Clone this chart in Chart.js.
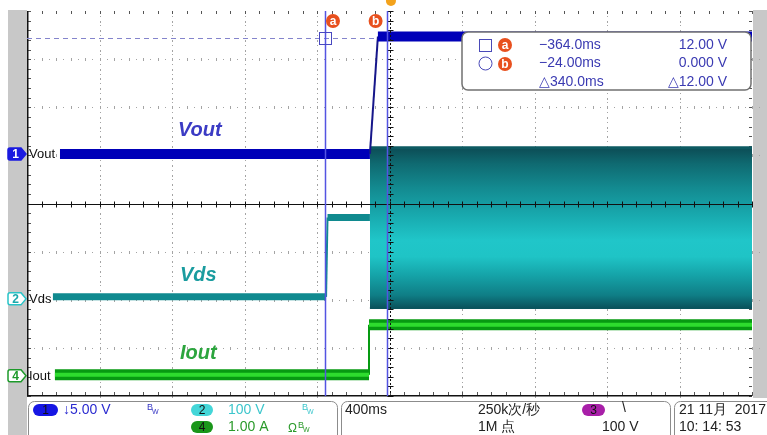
<!DOCTYPE html>
<html>
<head>
<meta charset="utf-8">
<script src="https://cdn.jsdelivr.net/npm/chart.js@4.4.0/dist/chart.umd.min.js"></script>
<style>
  body { margin: 0; background: #fff; }
  #wrap { width: 767px; height: 435px; position: relative; }
</style>
</head>
<body>
<div id="wrap"><canvas id="scope"></canvas></div>
<script>
// time in ms, trigger at 0
const voutTime = [-1826, -116, -72, 1992];
const voutVolts = [0, 0, 12.2, 12.2];
const vdsTime = [-1865, -358, -350, -116];
const vdsVolts = [0, 0, 165, 165];
const vdsBandTime = [-116, 1992];
const vdsBandHigh = [310, 310];
const vdsBandLow = [-23, -23];
const ioutTime = [-1854, -121, -121, 1992];
const ioutAmps = [0, 0, 1.04, 1.04];

const cursorTimes = [-364, -24];   // cursor a, cursor b
const cursorLevel = 12;            // V on ch1
const readoutTimes = ['\u2212364.0ms', '\u221224.00ms', '\u25B3340.0ms'];
const readoutLevels = ['12.00 V', '0.000 V', '\u25B312.00 V'];

// channel settings: units per division, ground in divisions above centre
const ch1 = { perDiv: 5, ground: 1.03 };
const ch2 = { perDiv: 100, ground: -1.94 };
const ch4 = { perDiv: 1, ground: -3.56 };
const timePerDiv = 400;
const triggerDiv = 5.02;   // trigger position, divisions from the left edge

const FONT = '"Liberation Sans", Arial, sans-serif';

const pts = (xs, ys) => xs.map((x, i) => ({ x: x, y: ys[i] }));
const range = (ch) => ({ min: (-4 - ch.ground) * ch.perDiv, max: (4 - ch.ground) * ch.perDiv });
const steep = (c) => Math.abs(c.p1.x - c.p0.x) < Math.abs(c.p1.y - c.p0.y);

/*.............. grid, gray frame ..............*/
const scopeGrid = {
  id: 'scopeGrid',
  beforeDraw(chart) {
    const ctx = chart.ctx;
    ctx.save();
    ctx.fillStyle = '#c8c8c8';
    ctx.fillRect(8, 10, 19, 425);
    ctx.fillRect(753, 10, 14, 388);
    ctx.fillStyle = '#fff';
    const a = chart.chartArea;
    ctx.fillRect(a.left, a.top, a.right - a.left, a.bottom - a.top);
    ctx.restore();
  },
  beforeDatasetsDraw(chart) {
    const ctx = chart.ctx, a = chart.chartArea;
    const dx = (a.right - a.left) / 10, dy = (a.bottom - a.top) / 8;
    ctx.save();
    ctx.fillStyle = '#a4a4a4';
    for (let i = 1; i < 10; i++) {
      if (i === 5) continue;
      const x = Math.round(a.left + i * dx);
      for (let k = 0; k <= 80; k++) {
        const y = a.top + k * dy / 10;
        ctx.fillRect(x, Math.round(y), 1, k % 2 ? 1 : 2);
      }
    }
    for (let j = 1; j < 8; j++) {
      if (j === 4) continue;
      const y = Math.round(a.top + j * dy);
      for (let k = 0; k <= 50; k++) {
        const x = a.left + k * dx / 5;
        ctx.fillRect(Math.round(x), y - 1, 1, 3);
        ctx.fillRect(Math.round(x + dx / 10), y, 1, 1);
      }
    }
    // frame ticks
    ctx.fillStyle = '#555';
    for (let k = 0; k <= 50; k++) {
      const x = Math.round(a.left + k * dx / 5);
      ctx.fillRect(x, a.top, 1, 3);
      ctx.fillRect(x, a.bottom - 4, 1, 4);
    }
    for (let k = 0; k <= 40; k++) {
      const y = Math.round(a.top + k * dy / 5);
      ctx.fillRect(a.left, y, 4, 1);
      ctx.fillRect(a.right - 3, y, 3, 1);
    }
    ctx.fillStyle = '#111';
    ctx.fillRect(a.left, a.top, 1.5, a.bottom - a.top);
    ctx.fillRect(a.left, a.bottom - 1, a.right - a.left, 1.5);

    // horizontal cursor (level of cursor a), hidden under the trace where it meets it
    const yc = Math.round(chart.scales.y1.getPixelForValue(cursorLevel)) + 0.5;
    ctx.strokeStyle = '#8484cc';
    ctx.lineWidth = 1.2;
    ctx.setLineDash([5, 4]);
    ctx.beginPath(); ctx.moveTo(a.left, yc); ctx.lineTo(a.right, yc); ctx.stroke();
    ctx.restore();
  },
  afterDatasetsDraw(chart) {
    const ctx = chart.ctx, a = chart.chartArea;
    const dx = (a.right - a.left) / 10, dy = (a.bottom - a.top) / 8;
    const cx = Math.round(a.left + 5 * dx) + 0.5, cy = Math.round(a.top + 4 * dy) + 0.5;
    ctx.save();
    ctx.strokeStyle = '#111';
    ctx.lineWidth = 1;
    ctx.beginPath();
    ctx.moveTo(a.left, cy); ctx.lineTo(a.right, cy);
    for (let k = 0; k <= 50; k++) {
      const x = Math.round(a.left + k * dx / 5) + 0.5;
      ctx.moveTo(x, cy - 3); ctx.lineTo(x, cy + 3);
    }
    for (let k = 0; k <= 40; k++) {
      const y = Math.round(a.top + k * dy / 5) + 0.5;
      ctx.moveTo(cx - 3, y); ctx.lineTo(cx + 3, y);
    }
    ctx.stroke();
    ctx.setLineDash([2, 2]);
    ctx.beginPath();
    ctx.moveTo(cx, a.top); ctx.lineTo(cx, a.bottom);
    ctx.stroke();
    ctx.setLineDash([]);

    // cursors
    const xs = chart.scales.x;
    const yc = chart.scales.y1.getPixelForValue(cursorLevel);
    ctx.strokeStyle = '#5454e2';
    ctx.lineWidth = 1.5;
    cursorTimes.forEach(t => {
      const x = Math.round(xs.getPixelForValue(t)) + 0.5;
      ctx.beginPath(); ctx.moveTo(x, a.top); ctx.lineTo(x, a.bottom); ctx.stroke();
    });
    const xa = Math.round(xs.getPixelForValue(cursorTimes[0])) + 0.5;
    ctx.strokeStyle = '#4848c0';
    ctx.lineWidth = 1;
    ctx.strokeRect(xa - 6, Math.round(yc) - 5.5, 12, 12);
    ctx.restore();
  }
};

/*.............. labels, readouts, status bar ..............*/
function badge(ctx, x, y, letter) {
  ctx.fillStyle = '#e8501e';
  ctx.beginPath(); ctx.arc(x, y, 7, 0, Math.PI * 2); ctx.fill();
  ctx.fillStyle = '#fff';
  ctx.font = 'bold 12px ' + FONT;
  ctx.textAlign = 'center'; ctx.textBaseline = 'middle';
  ctx.fillText(letter, x, y + 0.5);
}

function chanTag(ctx, y, num, fill, stroke, numColor, name) {
  ctx.beginPath();
  ctx.moveTo(10, y - 6); ctx.lineTo(21, y - 6); ctx.lineTo(26, y);
  ctx.lineTo(21, y + 6); ctx.lineTo(10, y + 6);
  ctx.quadraticCurveTo(8, y + 6, 8, y + 4); ctx.lineTo(8, y - 4);
  ctx.quadraticCurveTo(8, y - 6, 10, y - 6); ctx.closePath();
  ctx.fillStyle = fill; ctx.fill();
  ctx.strokeStyle = stroke; ctx.lineWidth = 1.5; ctx.stroke();
  ctx.fillStyle = numColor;
  ctx.font = 'bold 12px ' + FONT;
  ctx.textAlign = 'center'; ctx.textBaseline = 'middle';
  ctx.fillText(num, 15.5, y + 0.5);
  ctx.fillStyle = '#111';
  ctx.font = '13px ' + FONT;
  ctx.textAlign = 'left';
  ctx.fillText(name, 29, y + 0.5);
}

function pill(ctx, x, y, w, h, fill, num) {
  ctx.fillStyle = fill;
  ctx.beginPath(); ctx.roundRect(x, y, w, h, h / 2); ctx.fill();
  ctx.fillStyle = '#111';
  ctx.font = '12px ' + FONT;
  ctx.textAlign = 'center'; ctx.textBaseline = 'middle';
  ctx.fillText(num, x + w / 2, y + h / 2 + 0.5);
}

function bw(ctx, x, y, color, prefix) {
  ctx.fillStyle = color;
  ctx.textAlign = 'left'; ctx.textBaseline = 'middle';
  let cx = x;
  if (prefix) {
    ctx.font = '12px ' + FONT;
    ctx.fillText(prefix, cx, y + 2);
    cx += ctx.measureText(prefix).width + 1;
  }
  ctx.font = '9px ' + FONT;
  ctx.fillText('B', cx, y - 1);
  ctx.font = '7px ' + FONT;
  ctx.fillText('W', cx + 5, y + 3);
}

const scopeText = {
  id: 'scopeText',
  afterDraw(chart) {
    const ctx = chart.ctx;
    const xs = chart.scales.x;
    ctx.save();

    // trigger marker
    const xt = xs.getPixelForValue(0);
    ctx.fillStyle = '#f3a21c';
    ctx.beginPath(); ctx.arc(xt, 1, 5, 0, Math.PI * 2); ctx.fill();
    badge(ctx, xs.getPixelForValue(cursorTimes[0]) + 8, 21, 'a');
    badge(ctx, xs.getPixelForValue(cursorTimes[1]) - 11, 21, 'b');

    // trace names
    ctx.font = 'italic bold 20px ' + FONT;
    ctx.textAlign = 'left'; ctx.textBaseline = 'middle';
    ctx.fillStyle = '#3b3bc4'; ctx.fillText('Vout', 178, 130);
    ctx.fillStyle = '#1a9c9f'; ctx.fillText('Vds', 180, 275);
    ctx.fillStyle = '#2ca53e'; ctx.fillText('Iout', 180, 353);

    // channel tags at each ground level
    chanTag(ctx, chart.scales.y1.getPixelForValue(0), '1', '#1a1ae0', '#1a1ae0', '#fff', 'Vout');
    chanTag(ctx, chart.scales.y2.getPixelForValue(0) + 2, '2', '#fff', '#28c4c8', '#1aa8ac', 'Vds');
    chanTag(ctx, chart.scales.y4.getPixelForValue(0) + 1, '4', '#fff', '#1d9a2a', '#1d9a2a', 'Iout');

    // cursor readout box
    ctx.fillStyle = '#fff';
    ctx.strokeStyle = '#707070';
    ctx.lineWidth = 1.5;
    ctx.beginPath(); ctx.roundRect(462, 32, 289, 58, 6); ctx.fill(); ctx.stroke();
    ctx.strokeStyle = '#4a4ab8'; ctx.lineWidth = 1;
    ctx.strokeRect(479.5, 39.5, 12, 12);
    ctx.beginPath(); ctx.arc(485.5, 63.5, 6.5, 0, Math.PI * 2); ctx.stroke();
    badge(ctx, 505, 45, 'a');
    badge(ctx, 505, 64, 'b');
    ctx.fillStyle = '#3a3ab2';
    ctx.font = '14px ' + FONT;
    ctx.textBaseline = 'middle';
    readoutTimes.forEach((s, i) => {
      ctx.textAlign = 'left'; ctx.fillText(s, 539, 45 + i * 18.5);
    });
    readoutLevels.forEach((s, i) => {
      ctx.textAlign = 'right'; ctx.fillText(s, 727, 45 + i * 18.5);
    });

    // status bar
    ctx.strokeStyle = '#8c8c8c'; ctx.lineWidth = 1;
    ctx.beginPath(); ctx.roundRect(28.5, 401.5, 309, 45, 6); ctx.stroke();
    ctx.beginPath(); ctx.roundRect(341.5, 401.5, 329, 45, 6); ctx.stroke();
    ctx.beginPath(); ctx.roundRect(674.5, 401.5, 110, 45, 6); ctx.stroke();

    pill(ctx, 33, 404, 25, 12, '#1616e4', '1');
    ctx.font = '14px ' + FONT; ctx.textAlign = 'left'; ctx.textBaseline = 'middle';
    ctx.fillStyle = '#2b2bd0'; ctx.fillText('\u21935.00 V', 63, 410);
    bw(ctx, 147, 409, '#3434c4');

    pill(ctx, 191, 404, 22, 12, '#44d6d8', '2');
    ctx.font = '14px ' + FONT; ctx.textAlign = 'left';
    ctx.fillStyle = '#3cc6cc'; ctx.fillText('100 V', 228, 410);
    bw(ctx, 302, 409, '#3cc6cc');

    pill(ctx, 191, 421, 22, 12, '#1a961a', '4');
    ctx.font = '14px ' + FONT; ctx.textAlign = 'left';
    ctx.fillStyle = '#2a9a2a'; ctx.fillText('1.00 A', 228, 427);
    bw(ctx, 288, 427, '#2a9a2a', '\u03A9');

    ctx.font = '14px ' + FONT; ctx.textAlign = 'left';
    ctx.fillStyle = '#222';
    ctx.fillText('400ms', 345, 410);
    ctx.fillText('250k次/秒', 478, 410);
    ctx.fillText('1M 点', 478, 427);
    pill(ctx, 582, 404, 23, 12, '#a81fa8', '3');
    ctx.font = '14px ' + FONT; ctx.textAlign = 'left'; ctx.fillStyle = '#222';
    ctx.fillText('\\', 622, 408);
    ctx.fillText('100 V', 602, 427);
    ctx.fillText('21 11月  2017', 679, 410);
    ctx.fillText('10: 14: 53', 679, 427);
    ctx.restore();
  }
};

function bandFill(c) {
  const chart = c.chart;
  if (!chart.chartArea) return 'rgba(0,0,0,0)';
  const s = chart.scales.y2;
  const top = s.getPixelForValue(vdsBandHigh[0]), bot = s.getPixelForValue(vdsBandLow[0]);
  const g = chart.ctx.createLinearGradient(0, top, 0, bot);
  g.addColorStop(0.00, '#0c4c55');
  g.addColorStop(0.10, '#0f6a71');
  g.addColorStop(0.25, '#138a90');
  g.addColorStop(0.42, '#18a9ae');
  g.addColorStop(0.58, '#20c6c9');
  g.addColorStop(0.68, '#1fc4c6');
  g.addColorStop(0.80, '#15a2a7');
  g.addColorStop(0.92, '#0f7e86');
  g.addColorStop(1.00, '#0a535c');
  return g;
}

const common = { pointRadius: 0, fill: false, tension: 0, borderCapStyle: 'butt' };

const ctx = document.getElementById('scope').getContext('2d');
const scope = new Chart(ctx, {
  type: 'line',
  data: {
    datasets: [
      Object.assign({}, common, {
        label: 'Vout', yAxisID: 'y1', data: pts(voutTime, voutVolts),
        borderColor: '#0000b8', borderWidth: 10,
        segment: { borderWidth: c => steep(c) ? 2 : 10, borderColor: c => steep(c) ? '#16168a' : '#0000b8' }
      }),
      Object.assign({}, common, {
        label: 'Iout core', yAxisID: 'y4', data: pts(ioutTime, ioutAmps),
        borderColor: '#2edc2e', borderWidth: 4,
        segment: { borderWidth: c => steep(c) ? 0.01 : 4 }
      }),
      Object.assign({}, common, {
        label: 'Iout', yAxisID: 'y4', data: pts(ioutTime, ioutAmps),
        borderColor: '#079a12', borderWidth: 11,
        segment: { borderWidth: c => steep(c) ? 2 : 11 }
      }),
      Object.assign({}, common, {
        label: 'Vds', yAxisID: 'y2', data: pts(vdsTime, vdsVolts),
        borderColor: '#108a8f', borderWidth: 7,
        segment: { borderWidth: c => steep(c) ? 2 : 7 }
      }),
      Object.assign({}, common, {
        label: 'Vds high', yAxisID: 'y2', data: pts(vdsBandTime, vdsBandHigh),
        borderColor: '#0d5a62', borderWidth: 3, fill: '+1', backgroundColor: bandFill
      }),
      Object.assign({}, common, {
        label: 'Vds low', yAxisID: 'y2', data: pts(vdsBandTime, vdsBandLow),
        borderColor: '#0a555d', borderWidth: 2
      })
    ]
  },
  options: {
    responsive: true,
    maintainAspectRatio: false,
    animation: false,
    layout: { padding: { left: 27, right: 15, top: 11, bottom: 39 } },
    plugins: { legend: { display: false }, tooltip: { enabled: false } },
    scales: {
      x: { type: 'linear', display: false, min: -triggerDiv * timePerDiv, max: (10 - triggerDiv) * timePerDiv },
      y1: Object.assign({ type: 'linear', display: false }, range(ch1)),
      y2: Object.assign({ type: 'linear', display: false }, range(ch2)),
      y4: Object.assign({ type: 'linear', display: false }, range(ch4))
    }
  },
  plugins: [scopeGrid, scopeText]
});
</script>
</body>
</html>
